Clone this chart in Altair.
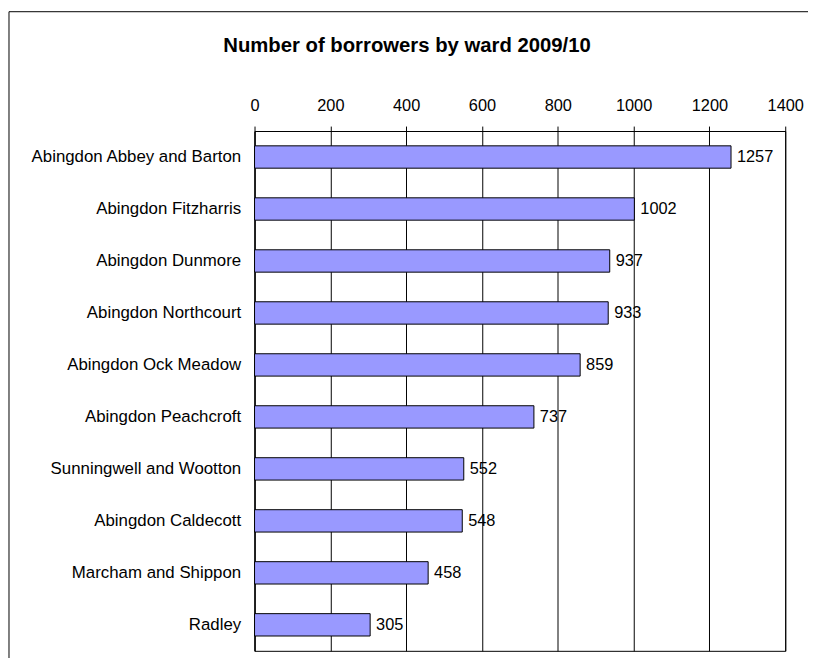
import altair as alt
import pandas as pd

wards = [
    "Abingdon Abbey and Barton",
    "Abingdon Fitzharris",
    "Abingdon Dunmore",
    "Abingdon Northcourt",
    "Abingdon Ock Meadow",
    "Abingdon Peachcroft",
    "Sunningwell and Wootton",
    "Abingdon Caldecott",
    "Marcham and Shippon",
    "Radley",
]
borrowers = [1257, 1002, 937, 933, 859, 737, 552, 548, 458, 305]
x_ticks = [0, 200, 400, 600, 800, 1000, 1200, 1400]
title_text = "Number of borrowers by ward 2009/10"

df = pd.DataFrame({"ward": wards, "borrowers": borrowers})

W, H = 536, 525
FONT = "Liberation Sans"

x_enc = alt.X(
    "borrowers:Q",
    scale=alt.Scale(domain=[0, 1400], nice=False, zero=True),
    axis=alt.Axis(
        orient="top", values=x_ticks, format="d", title=None, grid=True,
        gridColor="#000000", gridWidth=1, domain=True, domainColor="#000000",
        tickColor="#000000", tickSize=5, labelPadding=16,
        labelBaseline="alphabetic", labelFont=FONT, labelFontSize=16.5,
        labelColor="#000000", labelFlush=False,
    ),
)
y_enc = alt.Y(
    "ward:N", sort=wards,
    scale=alt.Scale(paddingInner=0.57, paddingOuter=0.285),
    axis=alt.Axis(
        title=None, ticks=False, labelPadding=14, labelFont=FONT,
        labelFontSize=17, labelColor="#000000", domainColor="#000000",
        labelLimit=400,
    ),
)

base = alt.Chart(df)

bars = base.mark_bar(color="#9999FF", stroke="#000000", strokeWidth=1).encode(
    x=x_enc, y=y_enc
)

labels = base.mark_text(
    align="left", baseline="middle", dx=6, font=FONT, fontSize=16.5, color="#000000"
).encode(
    x=alt.X("borrowers:Q"), y=alt.Y("ward:N", sort=wards), text=alt.Text("borrowers:Q")
)

one = alt.Data(values=[{"t": title_text}])

frame = alt.Chart(one).mark_rect(
    fill="#ffffff", fillOpacity=0, stroke="#000000", strokeWidth=1
).encode(
    x=alt.value(-248), x2=alt.value(W + 100),
    y=alt.value(-120.5), y2=alt.value(H + 100),
)

title = alt.Chart(one).mark_text(
    align="center", baseline="alphabetic", font=FONT, fontSize=20.5,
    fontWeight="bold", color="#000000",
).encode(
    x=alt.value(154), y=alt.value(-80), text=alt.Text("t:N")
)

chart = alt.layer(frame, bars, labels, title).properties(
    width=W, height=H,
    autosize=alt.AutoSizeParams(type="none"),
    padding={"left": 249, "top": 121, "right": 23, "bottom": 4},
    background="#ffffff",
).configure_view(stroke="#000000", strokeWidth=1)

chart.save("out.html", embed_options={"renderer": "svg", "actions": False})
